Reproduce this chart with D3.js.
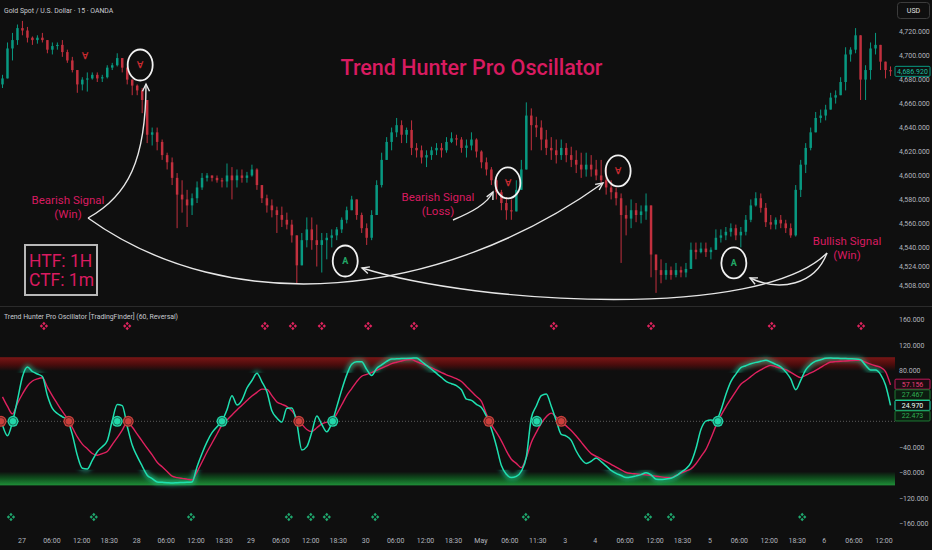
<!DOCTYPE html>
<html>
<head>
<meta charset="utf-8">
<title>Trend Hunter Pro Oscillator</title>
<script src="https://cdn.jsdelivr.net/npm/d3@7/dist/d3.min.js"></script>
<style>
  html, body { margin: 0; background: #0f0f0f; }
  svg { display: block; }
  text { font-family: Roboto, 'Noto Sans', sans-serif; }
</style>
</head>
<body>
<svg id="chart" width="932" height="550"></svg>
<script>
// hourly-ish candles (open = previous close)
const firstOpen = 4676;
const closes = [
  4681, 4706, 4713, 4723, 4721, 4715, 4713, 4715, 4713, 4705,
  4708, 4709, 4703, 4696, 4688, 4676, 4680, 4681, 4684, 4681,
  4682, 4690, 4692, 4698, 4690, 4680, 4675, 4671, 4663, 4634,
  4636, 4628, 4617, 4611, 4598, 4584, 4580, 4575, 4581, 4590,
  4598, 4600, 4598, 4596, 4595, 4600, 4596, 4600, 4598, 4600,
  4605, 4592, 4581, 4575, 4571, 4567, 4563, 4559, 4550, 4525,
  4546, 4555, 4546, 4542, 4546, 4548, 4550, 4555, 4563, 4571,
  4580, 4567, 4556, 4548, 4567, 4592, 4613, 4628, 4636, 4642,
  4634, 4638, 4623, 4621, 4615, 4617, 4621, 4623, 4621, 4628,
  4631, 4630, 4623, 4625, 4630, 4620, 4611, 4605, 4596, 4586,
  4577, 4571, 4570, 4588, 4605, 4650, 4642, 4640, 4630, 4623,
  4621, 4617, 4623, 4617, 4613, 4609, 4605, 4609, 4605, 4600,
  4596, 4590, 4586, 4581, 4567, 4564, 4571, 4567, 4570, 4575,
  4534, 4521, 4517, 4521, 4517, 4521, 4519, 4522, 4538, 4536,
  4539, 4536, 4538, 4548, 4550, 4553, 4556, 4550, 4553, 4563,
  4575, 4581, 4573, 4561, 4559, 4563, 4560, 4556, 4550, 4588,
  4609, 4623, 4636, 4648, 4650, 4655, 4665, 4667, 4678, 4701,
  4705, 4717, 4680, 4688, 4706, 4709, 4695, 4688, 4686.92
];
const highs = [
  4684, 4711, 4719, 4726, 4729, 4724, 4716, 4717, 4719, 4713,
  4711, 4711, 4713, 4705, 4699, 4688, 4682, 4686, 4686, 4686,
  4684, 4692, 4694, 4702, 4698, 4691, 4680, 4676, 4673, 4663,
  4640, 4640, 4630, 4619, 4615, 4602, 4596, 4588, 4585, 4595,
  4602, 4602, 4600, 4600, 4598, 4610, 4607, 4605, 4605, 4603,
  4609, 4606, 4592, 4584, 4580, 4574, 4574, 4569, 4563, 4550,
  4552, 4565, 4565, 4559, 4552, 4552, 4555, 4557, 4565, 4574,
  4583, 4580, 4569, 4560, 4571, 4596, 4619, 4632, 4640, 4648,
  4646, 4640, 4646, 4627, 4625, 4621, 4624, 4627, 4627, 4632,
  4636, 4634, 4632, 4630, 4636, 4631, 4621, 4615, 4607, 4598,
  4588, 4582, 4580, 4596, 4613, 4661, 4656, 4649, 4646, 4638,
  4632, 4630, 4630, 4627, 4624, 4621, 4619, 4619, 4617, 4613,
  4613, 4607, 4596, 4590, 4585, 4575, 4580, 4577, 4575, 4585,
  4571, 4534, 4530, 4527, 4524, 4527, 4524, 4527, 4544, 4544,
  4544, 4544, 4540, 4555, 4555, 4557, 4560, 4559, 4557, 4567,
  4580, 4586, 4585, 4577, 4567, 4565, 4567, 4563, 4560, 4592,
  4613, 4627, 4640, 4653, 4655, 4659, 4669, 4671, 4682, 4707,
  4707, 4723, 4711, 4692, 4711, 4719, 4706, 4695, 4691
];
const lows = [
  4673, 4694, 4696, 4709, 4717, 4711, 4709, 4710, 4711, 4702,
  4701, 4705, 4699, 4694, 4686, 4669, 4671, 4670, 4680, 4678,
  4678, 4681, 4688, 4691, 4686, 4676, 4667, 4667, 4652, 4627,
  4625, 4621, 4613, 4605, 4592, 4556, 4569, 4557, 4567, 4577,
  4588, 4595, 4595, 4594, 4590, 4590, 4580, 4590, 4594, 4594,
  4599, 4588, 4577, 4569, 4565, 4552, 4557, 4555, 4544, 4510,
  4528, 4540, 4538, 4524, 4519, 4530, 4540, 4546, 4552, 4560,
  4571, 4563, 4552, 4542, 4546, 4569, 4590, 4613, 4621, 4632,
  4627, 4627, 4617, 4615, 4610, 4607, 4613, 4617, 4615, 4619,
  4627, 4625, 4619, 4615, 4621, 4615, 4606, 4600, 4592, 4580,
  4571, 4563, 4563, 4570, 4588, 4605, 4621, 4632, 4621, 4617,
  4613, 4610, 4613, 4611, 4607, 4602, 4598, 4599, 4599, 4596,
  4594, 4584, 4580, 4575, 4527, 4550, 4556, 4561, 4560, 4563,
  4515, 4502, 4510, 4513, 4513, 4515, 4515, 4515, 4522, 4530,
  4535, 4532, 4530, 4538, 4544, 4546, 4549, 4546, 4540, 4550,
  4561, 4574, 4569, 4557, 4555, 4555, 4556, 4552, 4548, 4549,
  4582, 4602, 4621, 4636, 4644, 4646, 4655, 4660, 4667, 4671,
  4695, 4702, 4663, 4663, 4680, 4701, 4688, 4681, 4683
];

// oscillator, one value per candle
const fastLine = [
  -5.8, -22.6, -1.1, 33.4, 70.0, 85.2, 78.1, 74.2, 70.3, 40.5,
  20.2, 12.2, 7.1, 2.0, -20.9, -53.5, -73.6, -74.8, -61.3, -47.7,
  -39.8, -30.6, 0.8, 26.2, 24.5, -7.7, -37.2, -55.1, -70.2, -84.5,
  -89.9, -95.2, -95.7, -96.2, -96.8, -96.3, -96.0, -95.7, -95.2, -71.2,
  -50.4, -32.3, -17.9, -8.6, 0.5, 18.0, 40.2, 25.6, 33.4, 52.2,
  64.0, 75.4, 62.0, 46.3, 16.5, 5.2, -1.1, 20.4, 20.9, -3.0,
  -45.0, -39.8, -17.1, 8.5, -5.0, -16.5, -2.8, 22.6, 49.3, 72.8,
  89.6, 93.5, 93.5, 81.4, 71.7, 83.0, 88.6, 94.0, 97.7, 98.0,
  98.4, 98.7, 99.0, 99.3, 93.8, 87.7, 81.7, 75.1, 68.7, 62.3,
  59.0, 55.8, 49.4, 34.7, 32.9, 26.5, 21.5, 8.0, -12.2, -38.7,
  -69.5, -83.1, -88.3, -86.4, -78.4, -56.0, 5.2, 24.0, 40.2, 42.8,
  23.7, 1.1, -20.5, -23.1, -29.8, -46.6, -59.1, -66.0, -62.7, -57.4,
  -63.2, -70.0, -77.0, -81.7, -85.0, -88.3, -87.5, -85.6, -83.6, -80.6,
  -83.9, -90.8, -91.3, -90.4, -89.3, -85.6, -80.0, -74.4, -64.9, -42.8,
  -13.0, 0.3, 1.9, 0.9, 17.4, 42.2, 62.3, 74.0, 84.1, 87.2,
  90.2, 92.4, 94.1, 95.8, 93.0, 89.3, 85.3, 77.5, 66.5, 49.6,
  64.3, 80.6, 89.3, 94.3, 96.5, 98.8, 99.1, 98.8, 98.7, 98.4,
  98.2, 97.9, 96.5, 87.8, 80.5, 80.5, 73.7, 56.8, 24.97
];
const slowLine = [
  38.4, 23.4, 11.6, 28.2, 42.8, 55.4, 63.2, 66.5, 68.2, 53.6,
  40.0, 27.5, 15.4, 4.1, -9.7, -24.6, -35.8, -43.1, -50.5, -53.2,
  -50.7, -47.5, -36.5, -25.7, -13.8, -1.4, -8.9, -20.1, -31.1, -42.2,
  -52.7, -64.2, -71.4, -78.7, -86.1, -88.3, -89.6, -90.7, -91.9, -79.2,
  -63.8, -48.2, -34.0, -19.9, -5.8, 2.0, 9.9, 17.7, 25.1, 32.5,
  39.8, 45.3, 50.5, 50.0, 40.3, 30.4, 26.7, 23.1, 16.6, 5.5,
  -4.4, -12.9, -16.2, -10.2, -4.1, -1.4, 0.2, 11.6, 25.9, 40.3,
  51.4, 62.3, 70.6, 73.6, 76.5, 80.0, 83.4, 86.9, 90.5, 92.7,
  94.6, 96.5, 96.8, 93.6, 90.5, 87.4, 84.1, 80.3, 76.5, 72.9,
  70.0, 66.8, 62.4, 54.6, 46.7, 39.1, 31.2, 11.5, -5.3, -17.4,
  -30.6, -46.3, -59.5, -66.0, -72.6, -57.1, -33.1, -17.4, -3.1, 7.1,
  12.9, 6.4, 0.0, -7.2, -14.3, -23.1, -32.6, -42.4, -50.7, -54.9,
  -59.1, -63.2, -67.4, -71.8, -76.1, -80.3, -81.7, -82.5, -83.3, -84.1,
  -85.0, -86.1, -87.1, -88.2, -88.3, -84.9, -81.4, -78.0, -74.7, -66.5,
  -55.4, -44.1, -26.5, -7.2, 8.8, 22.7, 35.0, 47.1, 58.0, 64.0,
  70.0, 76.1, 80.6, 84.9, 87.8, 85.6, 83.3, 81.1, 76.9, 72.0,
  68.5, 72.2, 75.8, 79.8, 84.5, 89.1, 93.0, 93.6, 94.1, 94.7,
  95.2, 95.7, 95.7, 92.7, 89.7, 87.1, 84.7, 78.0, 57.16
];

// markers, positions in candle index
const bearCrossBars = [-0.3, 13.3, 25.2, 59.4, 97.5, 112];
const bullCrossBars = [2.1, 23, 44, 66.2, 107.1, 143.4];
const bearDiamondBars = [8.3, 25, 52.6, 58.2, 64, 73.3, 82.5, 110.5, 130, 154.2, 172.1];
const bullDiamondBars = [1.7, 18.3, 37.8, 57.4, 61.8, 65, 74.7, 104.9, 129.4, 134, 160.3];
const bearSignalBars = [16.5, 27.6, 101.3, 123.4];
const bearSignalPrices = [4699.8, 4692.2, 4593.8, 4603.8];
const bearCircled = [false, true, true, true];
const bullSignalBars = [68.7, 146.6];
const bullSignalPrices = [4528.6, 4527];

// axes
const priceTicks = [4720, 4700, 4680, 4660, 4640, 4620, 4600, 4580, 4560, 4540, 4524, 4508];
const oscTicks = [160, 120, 80, 40, 0, -40, -80, -120, -160];
const timeLabels = ['27', '06:00', '12:00', '18:30', '28', '06:00', '12:00', '18:30', '29', '06:00',
  '12:00', '18:30', '30', '06:00', '12:00', '18:30', 'May', '06:00', '11:30', '3',
  '4', '06:00', '12:00', '18:30', '5', '06:00', '12:00', '18:30', '6', '06:00', '12:00'];
const timeTickBars = [3.9, 9.9, 15.9, 21.4, 26.9, 32.8, 38.8, 44.4, 49.8, 55.8,
  61.8, 67.3, 72.8, 78.8, 84.8, 90.4, 95.9, 101.7, 107.3, 112.8,
  118.8, 124.8, 130.8, 136.3, 141.8, 147.7, 153.7, 159.3, 164.7, 170.7, 176.7];
const lastPrice = 4686.92;
const oscLastValues = [57.156, 27.467, 24.970, 22.473];

const upColor = '#089981';
const downColor = '#c2303e';
const teal = '#1fe0b0';
const crimson = '#e0215f';
const pink = '#d81b60';
const axisText = '#b2b5be';

const svg = d3.select('#chart');
const width = +svg.attr('width');
const height = +svg.attr('height');
const plotRight = 893;
const mainBottom = 306;
const oscTop = 307, oscBottom = 528;

const x = d3.scaleLinear().domain([-0.5, closes.length - 0.5]).range([0, plotRight]);
const yPrice = d3.scaleLinear().domain([4508, 4720]).range([285.7, 31.7]);
const yOsc = d3.scaleLinear().domain([-160, 160]).range([523.3, 319.3]);

svg.append('rect').attr('width', width).attr('height', height).attr('fill', '#0f0f0f');

const defs = svg.append('defs');
defs.append('clipPath').attr('id', 'main-clip')
  .append('rect').attr('x', 0).attr('y', 0).attr('width', plotRight).attr('height', mainBottom);
defs.append('clipPath').attr('id', 'osc-clip')
  .append('rect').attr('x', 0).attr('y', oscTop).attr('width', plotRight + 2).attr('height', oscBottom - oscTop);
const glowClip = defs.append('clipPath').attr('id', 'glow-clip');
glowClip.append('rect').attr('x', 0).attr('y', oscTop).attr('width', plotRight + 2).attr('height', yOsc(76) - oscTop);
glowClip.append('rect').attr('x', 0).attr('y', yOsc(-76)).attr('width', plotRight + 2).attr('height', oscBottom - yOsc(-76));
defs.append('filter').attr('id', 'blur').attr('x', '-10%').attr('y', '-50%').attr('width', '120%').attr('height', '200%')
  .append('feGaussianBlur').attr('stdDeviation', 2.2);

const redGrad = defs.append('linearGradient').attr('id', 'red-band').attr('x1', 0).attr('y1', 0).attr('x2', 0).attr('y2', 1);
redGrad.append('stop').attr('offset', '0%').attr('stop-color', '#7a1616');
redGrad.append('stop').attr('offset', '55%').attr('stop-color', '#4a0c0c');
redGrad.append('stop').attr('offset', '100%').attr('stop-color', '#0f0f0f');
const greenGrad = defs.append('linearGradient').attr('id', 'green-band').attr('x1', 0).attr('y1', 0).attr('x2', 0).attr('y2', 1);
greenGrad.append('stop').attr('offset', '0%').attr('stop-color', '#0f0f0f');
greenGrad.append('stop').attr('offset', '45%').attr('stop-color', '#0f4a1c');
greenGrad.append('stop').attr('offset', '100%').attr('stop-color', '#1f8f38');

// ---- price pane
const bars = closes.map((c, i) => ({
  i, close: c, open: i ? closes[i - 1] : firstOpen, high: highs[i], low: lows[i]
}));
const bodyW = (x(1) - x(0)) * 0.5;
const candles = svg.append('g').attr('clip-path', 'url(#main-clip)');
candles.selectAll('line').data(bars).join('line')
  .attr('x1', d => x(d.i)).attr('x2', d => x(d.i))
  .attr('y1', d => yPrice(Math.max(d.high, d.open, d.close)))
  .attr('y2', d => yPrice(Math.min(d.low, d.open, d.close)))
  .attr('stroke', d => d.close >= d.open ? upColor : downColor)
  .attr('stroke-width', 1);
candles.selectAll('rect').data(bars).join('rect')
  .attr('x', d => x(d.i) - bodyW / 2)
  .attr('width', bodyW)
  .attr('y', d => yPrice(Math.max(d.open, d.close)))
  .attr('height', d => Math.max(1, Math.abs(yPrice(d.open) - yPrice(d.close))))
  .attr('fill', d => d.close >= d.open ? upColor : downColor);

const priceAxis = svg.append('g')
  .attr('transform', `translate(${plotRight + 5},0)`)
  .call(d3.axisRight(yPrice).tickValues(priceTicks).tickSize(0).tickPadding(1).tickFormat(d3.format(',.3f')));
priceAxis.select('.domain').remove();
priceAxis.selectAll('text').attr('fill', axisText).attr('font-size', 7);

// last price tag
svg.append('rect').attr('x', plotRight + 2).attr('y', yPrice(lastPrice) - 5).attr('width', 35).attr('height', 10)
  .attr('fill', '#0f0f0f').attr('stroke', upColor).attr('stroke-width', 1).attr('rx', 1);
svg.append('text').attr('x', plotRight + 19.5).attr('y', yPrice(lastPrice) + 2.5)
  .attr('text-anchor', 'middle').attr('font-size', 7).attr('fill', '#1bbf9f')
  .text(d3.format(',.3f')(lastPrice));

// USD button
svg.append('rect').attr('x', 897.5).attr('y', 2.5).attr('width', 32).attr('height', 16).attr('rx', 3)
  .attr('fill', 'none').attr('stroke', '#3c3c3c');
svg.append('text').attr('x', 913.5).attr('y', 13).attr('text-anchor', 'middle')
  .attr('font-size', 7).attr('fill', '#e0e0e0').text('USD');

svg.append('text').attr('x', 4).attr('y', 13).attr('font-size', 6.9).attr('fill', '#c8cad0')
  .text('Gold Spot / U.S. Dollar · 15 · OANDA');

// signals on price
const sig = svg.append('g');
bearSignalBars.forEach((b, k) => {
  const cx = x(b), cy = yPrice(bearSignalPrices[k]);
  sig.append('text').attr('x', cx).attr('y', cy + 3.3).attr('text-anchor', 'middle')
    .attr('font-family', 'DejaVu Sans').attr('font-weight', 'bold').attr('font-size', 9)
    .attr('fill', '#c62a2f').text('∀');
  if (bearCircled[k]) {
    sig.append('ellipse').attr('cx', cx).attr('cy', cy).attr('rx', 12.5).attr('ry', 15.5)
      .attr('fill', 'none').attr('stroke', '#f2f2f2').attr('stroke-width', 1.8);
  }
});
bullSignalBars.forEach((b, k) => {
  const cx = x(b), cy = yPrice(bullSignalPrices[k]);
  sig.append('text').attr('x', cx).attr('y', cy + 3.3).attr('text-anchor', 'middle')
    .attr('font-family', 'DejaVu Sans').attr('font-weight', 'bold').attr('font-size', 9)
    .attr('fill', '#22a866').text('A');
  sig.append('ellipse').attr('cx', cx).attr('cy', cy).attr('rx', 12.5).attr('ry', 15.5)
    .attr('fill', 'none').attr('stroke', '#f2f2f2').attr('stroke-width', 1.8);
});

// annotations
const ann = svg.append('g').attr('fill', 'none').attr('stroke', '#e6e6e6').attr('stroke-width', 1.4);
const arrows = [
  { d: 'M88,218 C128,196 146,160 146,84', tip: [146, 84], back: [146, 160] },
  { d: 'M88,218 C230,320 440,300 603,183', tip: [603, 183], back: [440, 300] },
  { d: 'M827,253 C760,320 480,305 362,268', tip: [362, 268], back: [480, 305] },
  { d: 'M827,253 C815,285 780,292 750,278', tip: [750, 278], back: [780, 292] },
  { d: 'M453,220 C472,212 487,204 493,192', tip: [493, 192], back: [487, 204] }
];
arrows.forEach(a => {
  ann.append('path').attr('d', a.d);
  const ang = Math.atan2(a.tip[1] - a.back[1], a.tip[0] - a.back[0]);
  const p1 = [a.tip[0] - 8 * Math.cos(ang - 0.45), a.tip[1] - 8 * Math.sin(ang - 0.45)];
  const p2 = [a.tip[0] - 8 * Math.cos(ang + 0.45), a.tip[1] - 8 * Math.sin(ang + 0.45)];
  ann.append('path').attr('d', `M${p1}L${a.tip}L${p2}`);
});

const labels = [
  { x: 68, y: 204, lines: ['Bearish Signal', '(Win)'] },
  { x: 438, y: 201, lines: ['Bearish Signal', '(Loss)'] },
  { x: 847, y: 245, lines: ['Bullish Signal', '(Win)'] }
];
labels.forEach(l => {
  l.lines.forEach((t, j) => {
    svg.append('text').attr('x', l.x).attr('y', l.y + j * 13.5).attr('text-anchor', 'middle')
      .attr('font-size', 11.5).attr('fill', pink).text(t);
  });
});

svg.append('text').attr('x', 471.5).attr('y', 75).attr('text-anchor', 'middle')
  .attr('font-size', 21.5).attr('font-weight', 500).attr('fill', pink)
  .text('Trend Hunter Pro Oscillator');

svg.append('rect').attr('x', 25).attr('y', 245).attr('width', 72).attr('height', 50)
  .attr('fill', '#0f0f0f').attr('stroke', '#b8b8b8').attr('stroke-width', 2);
['HTF: 1H', 'CTF: 1m'].forEach((t, j) => {
  svg.append('text').attr('x', 29).attr('y', 267 + j * 18.5).attr('font-size', 17.5)
    .attr('fill', pink).text(t);
});

// ---- oscillator pane
svg.append('line').attr('x1', 0).attr('x2', width).attr('y1', mainBottom + 0.5).attr('y2', mainBottom + 0.5)
  .attr('stroke', '#2b2b2b');

const osc = svg.append('g').attr('clip-path', 'url(#osc-clip)');
osc.append('rect').attr('x', 0).attr('width', plotRight + 2)
  .attr('y', yOsc(100.5)).attr('height', yOsc(79) - yOsc(100.5)).attr('fill', 'url(#red-band)');
osc.append('rect').attr('x', 0).attr('width', plotRight + 2)
  .attr('y', yOsc(-79)).attr('height', yOsc(-100.5) - yOsc(-79)).attr('fill', 'url(#green-band)');
osc.append('line').attr('x1', 0).attr('x2', plotRight + 2).attr('y1', yOsc(0)).attr('y2', yOsc(0))
  .attr('stroke', '#5a5a5a').attr('stroke-dasharray', '1,2');

const line = d3.line().x((d, i) => x(i)).y(d => yOsc(d)).curve(d3.curveMonotoneX);
osc.append('g').attr('clip-path', 'url(#glow-clip)')
  .append('path').attr('d', line(fastLine)).attr('fill', 'none').attr('stroke', teal)
  .attr('stroke-width', 6).attr('stroke-opacity', 0.45).attr('filter', 'url(#blur)');
osc.append('path').attr('d', line(slowLine)).attr('fill', 'none').attr('stroke', crimson).attr('stroke-width', 1.4);
osc.append('path').attr('d', line(fastLine)).attr('fill', 'none').attr('stroke', teal).attr('stroke-width', 1.5);

function crossDot(bar, color) {
  const cx = x(bar), cy = yOsc(0);
  osc.append('circle').attr('cx', cx).attr('cy', cy).attr('r', 5.5).attr('fill', color);
  osc.append('circle').attr('cx', cx).attr('cy', cy).attr('r', 3.8).attr('fill', 'none')
    .attr('stroke', '#0f0f0f').attr('stroke-opacity', 0.55).attr('stroke-width', 0.9);
}
bearCrossBars.forEach(b => crossDot(b, '#c9403c'));
bullCrossBars.forEach(b => crossDot(b, '#22d6a8'));

const petal = d3.symbol().type(d3.symbolSquare).size(5.5)();
function diamond(bar, cy, color) {
  [[-2.5, 0], [2.5, 0], [0, -2.5], [0, 2.5]].forEach(([dx, dy]) => {
    svg.append('path').attr('d', petal).attr('fill', color)
      .attr('transform', `translate(${x(bar) + dx},${cy + dy}) rotate(45)`);
  });
}
bearDiamondBars.forEach(b => diamond(b, oscTop + 19, '#e0245e'));
bullDiamondBars.forEach(b => diamond(b, oscBottom - 11, '#1fa86e'));

svg.append('text').attr('x', 4).attr('y', 319).attr('font-size', 6.9).attr('fill', '#c8cad0')
  .text('Trend Hunter Pro Oscillator [TradingFinder] (60, Reversal)');

// last-value tags, stacked so they do not overlap
const tagStyles = [
  { stroke: '#c2185b', fill: '#1a0c10', text: '#ec3f78' },
  { stroke: '#1d7a33', fill: '#0c1c10', text: '#2fae52' },
  { stroke: teal, fill: '#0f0f0f', text: '#eafff8' },
  { stroke: '#1d7a33', fill: '#0c1c10', text: '#2fae52' }
];
const tags = oscLastValues.map((v, k) => ({ v, y: yOsc(v), s: tagStyles[k] }));
const anchor = 2, gap = 10.6;
for (let k = anchor - 1; k >= 0; k--) tags[k].y = Math.min(tags[k].y, tags[k + 1].y - gap);
for (let k = anchor + 1; k < tags.length; k++) tags[k].y = Math.max(tags[k].y, tags[k - 1].y + gap);

// axis ticks hidden behind a tag are left out, as the tags cover them
const freeTicks = oscTicks.filter(t => tags.every(g => Math.abs(yOsc(t) - g.y) > 8));
const oscAxis = svg.append('g')
  .attr('transform', `translate(${plotRight + 5},0)`)
  .call(d3.axisRight(yOsc).tickValues(freeTicks).tickSize(0).tickPadding(1).tickFormat(d3.format(',.3f')));
oscAxis.select('.domain').remove();
oscAxis.selectAll('text').attr('fill', axisText).attr('font-size', 7);

tags.forEach(t => {
  svg.append('rect').attr('x', plotRight + 2).attr('y', t.y - 5).attr('width', 35).attr('height', 10)
    .attr('fill', t.s.fill).attr('stroke', t.s.stroke).attr('rx', 1);
  svg.append('text').attr('x', plotRight + 19.5).attr('y', t.y + 2.5).attr('text-anchor', 'middle')
    .attr('font-size', 7).attr('fill', t.s.text).text(d3.format('.3f')(t.v));
});

// time axis
svg.append('g').selectAll('text').data(timeLabels).join('text')
  .attr('x', (d, i) => x(timeTickBars[i]))
  .attr('y', 543)
  .attr('text-anchor', 'middle')
  .attr('font-size', 7)
  .attr('fill', axisText)
  .text(d => d);
</script>
</body>
</html>
